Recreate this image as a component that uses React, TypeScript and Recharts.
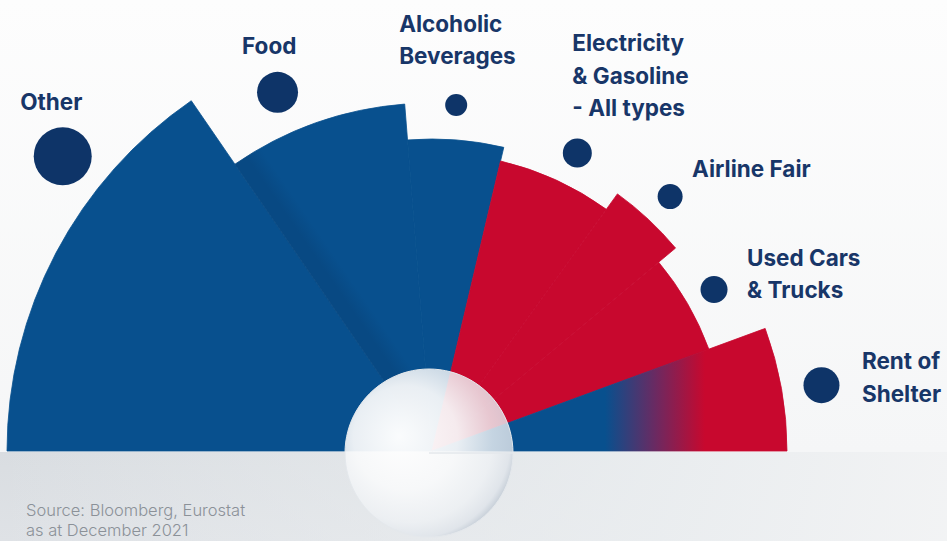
import React from 'react';
import { PieChart, Pie, Cell } from 'recharts';

// ---- data ----
const categories = [
  'Other',
  'Food',
  'Alcoholic Beverages',
  'Electricity & Gasoline - All types',
  'Airline Fair',
  'Used Cars & Trucks',
  'Rent of Shelter',
];
const labelLines = [
  ['Other'],
  ['Food'],
  ['Alcoholic', 'Beverages'],
  ['Electricity', '& Gasoline', '- All types'],
  ['Airline Fair'],
  ['Used Cars', '& Trucks'],
  ['Rent of', 'Shelter'],
];
// angular share of each slice (basket weight)
const basketWeights = [55.5, 30, 17.8, 22.5, 14.4, 19.6, 20.2];
// radial length of each slice
const inflationValues = [8.5, 6.96, 6.24, 5.96, 6.34, 5.9, 7.1];
// size of the bubble next to each slice
const bubbleValues = [5.8, 4.1, 2.2, 2.9, 2.5, 2.7, 3.6];
const colorGroups = ['blue', 'blue', 'blue', 'red', 'red', 'red', 'mixed'];

// ---- styling / layout ----
const W = 947;
const H = 541;
const CX = 432;
const CY = 451;
const MAX_R = 425;
const BUBBLE_PX = 5;
const BLUE = '#08508E';
const RED = '#C8082E';
const NAVY = '#0E3468';
const TEXT = '#183668';
const LINE_H = 32.5;
const FONT = 'Inter, "Noto Sans", sans-serif';

// per-slice label layout: angle shift of the bubble, gap from slice edge, text offset from bubble centre
const labelLayout = [
  { shift: -10.85, gap: 18.5, dx: -42.5, dy: -46.5 },
  { shift: 3.8, gap: 22, dx: -35.5, dy: -38.5 },
  { shift: 0.4, gap: 23.8, dx: -57, dy: -73.5 },
  { shift: -1.45, gap: 19, dx: -5, dy: -102 },
  { shift: -0.1, gap: 19, dx: 22, dy: -19.5 },
  { shift: -0.2, gap: 16.5, dx: 33, dy: -23.5 },
  { shift: -0.5, gap: 22, dx: 40.5, dy: -16 },
];

const data = categories.map((name, i) => ({
  name,
  weight: basketWeights[i],
  value: inflationValues[i],
}));

const maxValue = Math.max(...inflationValues);
const RAD = Math.PI / 180;

function fillFor(i: number) {
  if (colorGroups[i] === 'red') return RED;
  if (colorGroups[i] === 'mixed') return 'url(#rentGrad)';
  if (i === 1) return 'url(#foodGrad)';
  return BLUE;
}

function makeLabel(target: number) {
  return (props: any) => {
    const { index, cx, cy, midAngle, outerRadius } = props;
    if (index !== target) return <g key={`l-${index}`} />;
    const lay = labelLayout[index];
    const br = bubbleValues[index] * BUBBLE_PX;
    const ang = (midAngle + lay.shift) * RAD;
    const rr = outerRadius + lay.gap + br;
    const bx = cx + Math.cos(-ang) * rr;
    const by = cy + Math.sin(-ang) * rr;
    const lines = labelLines[index];
    return (
      <g key={`l-${index}`}>
        <circle cx={bx} cy={by} r={br} fill={NAVY} />
        <text
          x={bx + lay.dx}
          y={by + lay.dy}
          fill={TEXT}
          fontFamily={FONT}
          fontWeight={700}
          fontSize={22.5}
          textAnchor="start"
        >
          {lines.map((ln, k) => (
            <tspan key={k} x={bx + lay.dx} dy={k === 0 ? 0 : LINE_H}>
              {ln}
            </tspan>
          ))}
        </text>
      </g>
    );
  };
}

export default function App() {
  return (
    <div
      style={{
        position: 'absolute',
        left: 0,
        top: 0,
        width: W,
        height: H,
        overflow: 'hidden',
        background:
          'linear-gradient(to bottom, #fdfdfd 0px, #f5f6f7 452px, #d9dde1 452px, #dfe2e6 541px)',
      }}
    >
      <div
        style={{
          position: 'absolute',
          left: 0,
          top: 452,
          width: W,
          height: H - 452,
          background:
            'linear-gradient(to right, rgba(220,224,228,0) 0%, rgba(236,239,241,0.85) 70%, rgba(243,244,245,0.95) 100%)',
        }}
      />
      <div style={{ position: 'absolute', left: 0, top: 0 }}>
        <PieChart width={W} height={H} margin={{ top: 0, right: 0, bottom: 0, left: 0 }}>
          <defs>
            <linearGradient id="rentGrad" gradientUnits="userSpaceOnUse" x1="605" y1="0" x2="705" y2="0">
              <stop offset="0" stopColor={BLUE} />
              <stop offset="0.5" stopColor="#6A2A62" />
              <stop offset="1" stopColor={RED} />
            </linearGradient>
            <linearGradient id="foodGrad" gradientUnits="userSpaceOnUse" x1="237.3" y1="167.5" x2="262" y2="150.5">
              <stop offset="0" stopColor="#084983" />
              <stop offset="0.45" stopColor="#084983" />
              <stop offset="1" stopColor={BLUE} />
            </linearGradient>
            <radialGradient id="ballGrad" cx="40%" cy="42%" r="62%" fx="32%" fy="40%">
              <stop offset="0" stopColor="#ffffff" stopOpacity={0.98} />
              <stop offset="0.5" stopColor="#f8f9fa" stopOpacity={0.94} />
              <stop offset="0.8" stopColor="#eef1f4" stopOpacity={0.82} />
              <stop offset="0.95" stopColor="#dfe4ea" stopOpacity={0.84} />
              <stop offset="1" stopColor="#c9d1da" stopOpacity={0.9} />
            </radialGradient>
          </defs>
          {categories.map((c, target) => (
            <Pie
              key={c}
              data={data}
              dataKey="weight"
              nameKey="name"
              cx={CX}
              cy={CY}
              startAngle={180}
              endAngle={0}
              innerRadius={0}
              outerRadius={(inflationValues[target] / maxValue) * MAX_R}
              stroke="none"
              labelLine={false}
              label={makeLabel(target)}
              isAnimationActive={false}
            >
              {data.map((d, i) => (
                <Cell
                  key={d.name}
                  fill={i === target ? fillFor(i) : 'transparent'}
                  stroke={i === target ? fillFor(i) : 'none'}
                  strokeWidth={i === target ? 0.8 : 0}
                />
              ))}
            </Pie>
          ))}
          <Pie
            data={[{ name: 'ball', v: 1 }]}
            dataKey="v"
            cx={429}
            cy={453}
            startAngle={0}
            endAngle={360}
            innerRadius={0}
            outerRadius={84}
            fill="url(#ballGrad)"
            stroke="#e4e8ec"
            strokeWidth={1}
            isAnimationActive={false}
          />
        </PieChart>
      </div>
      <div
        style={{
          position: 'absolute',
          left: 26,
          top: 501,
          fontFamily: FONT,
          fontWeight: 300,
          fontSize: 16.5,
          lineHeight: '19.5px',
          color: '#8b9198',
          whiteSpace: 'nowrap',
        }}
      >
        Source: Bloomberg, Eurostat
        <br />
        as at December 2021
      </div>
    </div>
  );
}
